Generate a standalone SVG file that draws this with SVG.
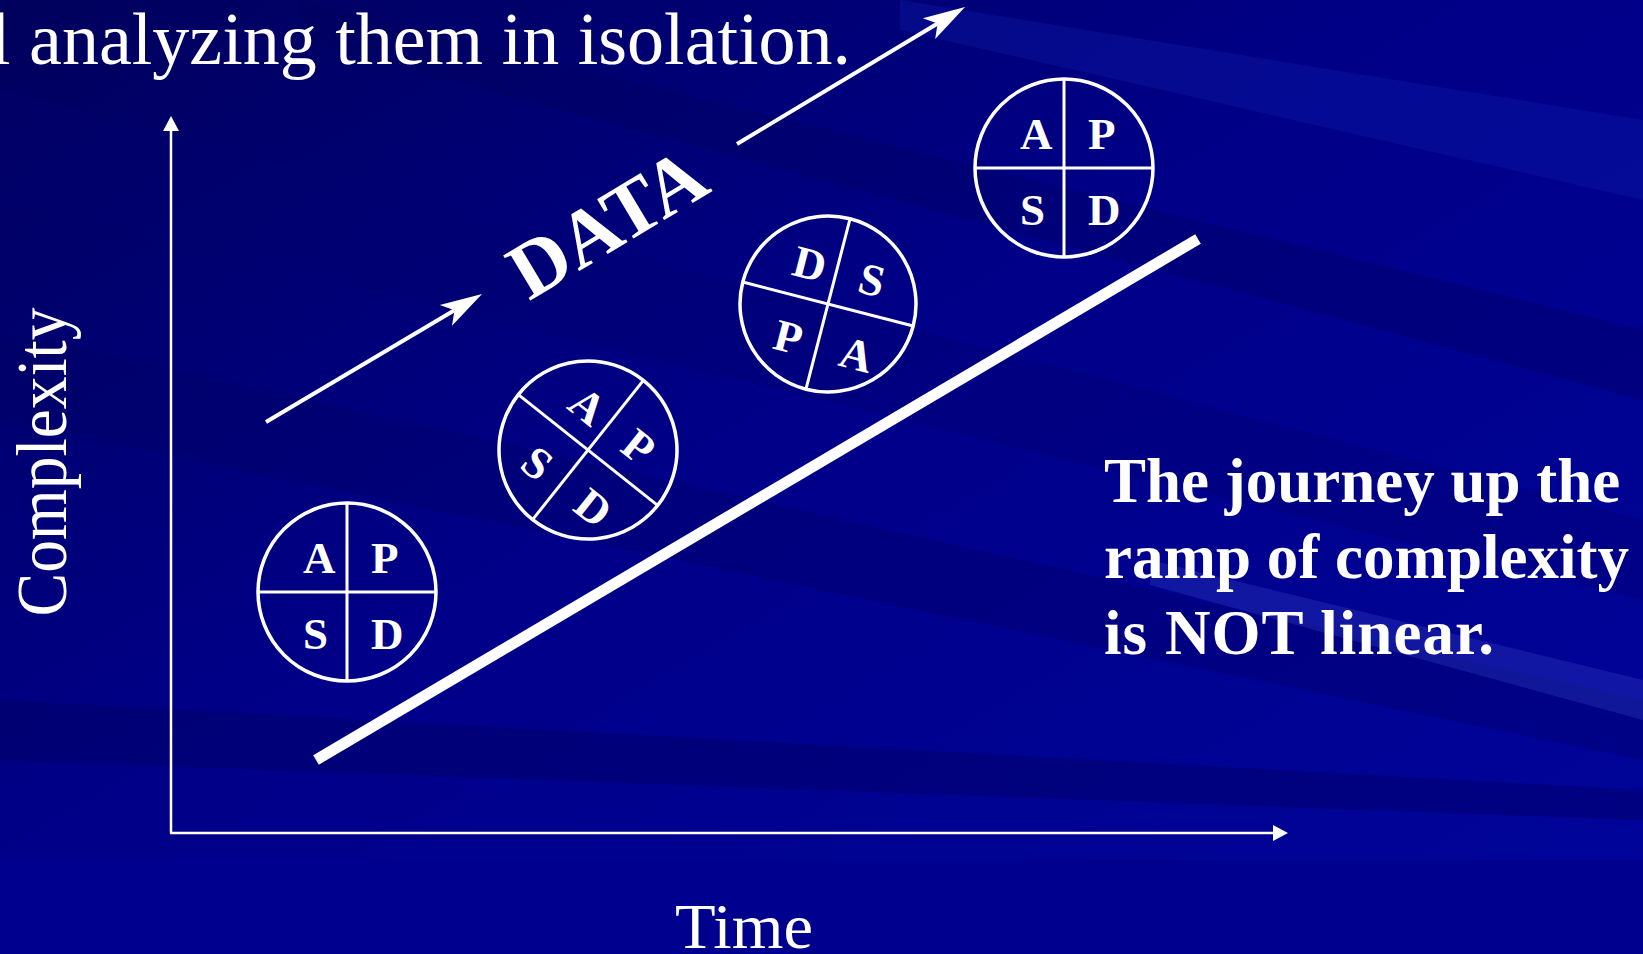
<svg xmlns="http://www.w3.org/2000/svg" width="1643" height="954" viewBox="0 0 1643 954">
  <defs>
    <linearGradient id="bg" x1="0" y1="0" x2="1" y2="1">
      <stop offset="0" stop-color="#00005c"/>
      <stop offset="0.45" stop-color="#000088"/>
      <stop offset="1" stop-color="#00049a"/>
    </linearGradient>
    <marker id="stealth" viewBox="0 -13 44 26" markerWidth="44" markerHeight="26" refX="10" refY="0" orient="auto" markerUnits="userSpaceOnUse">
      <path d="M0,-12 L42,0 L0,12 L10,0 z" fill="#ffffff"/>
    </marker>
    <marker id="tri" viewBox="0 -9 16 18" markerWidth="16" markerHeight="18" refX="1" refY="0" orient="auto" markerUnits="userSpaceOnUse">
      <path d="M0,-8 L15,0 L0,8 z" fill="#ffffff"/>
    </marker>
    <style>
      .ring { fill: none; stroke: #ffffff; stroke-width: 3.5; }
      .cross { stroke: #ffffff; stroke-width: 3; }
      .let { font-family: "Liberation Serif", "Times New Roman", serif; font-weight: bold; font-size: 45px; fill: #ffffff; }
      .serif { font-family: "Liberation Serif", "Times New Roman", serif; fill: #ffffff; }
      .axis { stroke: #ffffff; stroke-width: 2.5; fill: none; }
      .dataarrow { stroke: #ffffff; stroke-width: 4; fill: none; }
    </style>
  </defs>

  <!-- background -->
  <rect x="0" y="0" width="1643" height="954" fill="url(#bg)"/>
  <g id="streaks">
    <polygon points="0,90 1643,520 1643,600 0,200" fill="#000070" opacity="0.35"/>
    <polygon points="0,330 1643,700 1643,760 0,420" fill="#000060" opacity="0.3"/>
    <polygon points="0,700 1643,790 1643,820 0,760" fill="#00005a" opacity="0.35"/>
    <polygon points="300,0 1643,330 1643,400 300,40" fill="#00005a" opacity="0.3"/>
    <polygon points="1150,560 1643,680 1643,720 1150,585" fill="#3040c0" opacity="0.35"/>
    <polygon points="900,0 1643,120 1643,200 900,30" fill="#1020b0" opacity="0.3"/>
    <rect x="0" y="860" width="1643" height="94" fill="#00008e"/>
  </g>

  <!-- title fragment -->
  <text id="title" class="serif" x="-10" y="64" font-size="74">l analyzing them in isolation.</text>

  <!-- connectors -->
  <g id="connectors">
    <path class="axis" d="M171,833 L171,130" marker-end="url(#tri)"/>
    <path class="axis" d="M170,833 L1274,833" marker-end="url(#tri)"/>
    <path class="dataarrow" d="M266,422 L454.5,310.3" marker-end="url(#stealth)"/>
    <path class="dataarrow" d="M737,144 L937.6,23.5" marker-end="url(#stealth)"/>
    <line x1="316" y1="760" x2="1198" y2="239" stroke="#ffffff" stroke-width="11"/>
  </g>

  <!-- axis labels -->
  <text id="ylabel" class="serif" font-size="72" text-anchor="middle" textLength="309" lengthAdjust="spacingAndGlyphs" transform="translate(66,462) rotate(-90)">Complexity</text>
  <text id="xlabel" class="serif" font-size="64" x="744" y="948" text-anchor="middle" textLength="138" lengthAdjust="spacingAndGlyphs">Time</text>

  <text id="data" class="serif" font-weight="bold" font-size="80" text-anchor="middle" transform="translate(621,246) rotate(-31)">DATA</text>

  <!-- PDSA circles -->
  <g id="cycle1" transform="translate(347,592)">
    <circle class="ring" r="89"/>
    <line class="cross" x1="-89" y1="0" x2="89" y2="0"/>
    <line class="cross" x1="0" y1="-89" x2="0" y2="89"/>
    <text class="let" x="-44" y="-19">A</text>
    <text class="let" x="24" y="-19">P</text>
    <text class="let" x="-44" y="57">S</text>
    <text class="let" x="24" y="57">D</text>
  </g>

  <g id="cycle2" transform="translate(588,450) rotate(38.5)">
    <circle class="ring" r="89"/>
    <line class="cross" x1="-89" y1="0" x2="89" y2="0"/>
    <line class="cross" x1="0" y1="-89" x2="0" y2="89"/>
    <text class="let" x="-44" y="-19">A</text>
    <text class="let" x="24" y="-19">P</text>
    <text class="let" x="-44" y="57">S</text>
    <text class="let" x="24" y="57">D</text>
  </g>

  <g id="cycle3" transform="translate(828,304) rotate(14.5)">
    <circle class="ring" r="88"/>
    <line class="cross" x1="-88" y1="0" x2="88" y2="0"/>
    <line class="cross" x1="0" y1="-88" x2="0" y2="88"/>
    <text class="let" x="-44" y="-19">D</text>
    <text class="let" x="24" y="-19">S</text>
    <text class="let" x="-44" y="57">P</text>
    <text class="let" x="24" y="57">A</text>
  </g>

  <g id="cycle4" transform="translate(1064,168)">
    <circle class="ring" r="89"/>
    <line class="cross" x1="-89" y1="0" x2="89" y2="0"/>
    <line class="cross" x1="0" y1="-89" x2="0" y2="89"/>
    <text class="let" x="-44" y="-19">A</text>
    <text class="let" x="24" y="-19">P</text>
    <text class="let" x="-44" y="57">S</text>
    <text class="let" x="24" y="57">D</text>
  </g>

  <!-- note -->
  <text id="note" class="serif" font-weight="bold" font-size="63">
    <tspan x="1104" y="502">The journey up the</tspan>
    <tspan x="1104" y="578">ramp of complexity</tspan>
    <tspan x="1104" y="654" textLength="390" lengthAdjust="spacing">is NOT linear.</tspan>
  </text>
</svg>
